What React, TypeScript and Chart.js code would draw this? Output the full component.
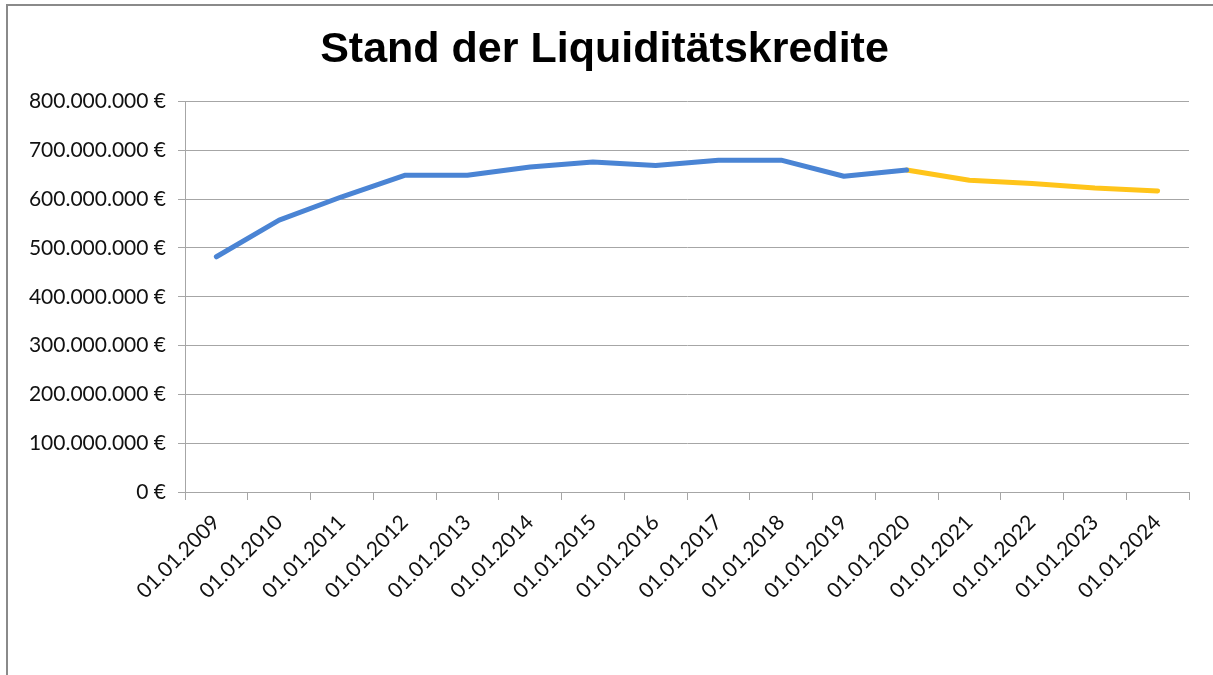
import React, { useEffect, useRef } from "react";
import { Chart, registerables } from "chart.js";

Chart.register(...registerables);

const categories = [
  "01.01.2009", "01.01.2010", "01.01.2011", "01.01.2012", "01.01.2013", "01.01.2014",
  "01.01.2015", "01.01.2016", "01.01.2017", "01.01.2018", "01.01.2019", "01.01.2020",
  "01.01.2021", "01.01.2022", "01.01.2023", "01.01.2024",
];

// Ist-Werte (blau), 2009–2020
const actualValues: (number | null)[] = [
  482e6, 557e6, 605e6, 649e6, 649e6, 666e6, 676e6, 669e6, 680e6, 680e6, 647e6, 660e6,
  null, null, null, null,
];

// Planwerte (gelb), 2020–2024
const planValues: (number | null)[] = [
  null, null, null, null, null, null, null, null, null, null, null, 660e6,
  639e6, 632e6, 623e6, 617e6,
];

const yTicks = [0, 100e6, 200e6, 300e6, 400e6, 500e6, 600e6, 700e6, 800e6];

const titleText = "Stand der Liquiditätskredite";

function formatEuro(v: number): string {
  const s = Math.round(v).toString().replace(/\B(?=(\d{3})+(?!\d))/g, ".");
  return s + " €";
}

export default function App() {
  const ref = useRef<HTMLCanvasElement>(null);

  useEffect(() => {
    if (!ref.current) return;
    const chart = new Chart(ref.current, {
      type: "line",
      data: {
        labels: categories,
        datasets: [
          {
            label: "Ist",
            data: actualValues,
            borderColor: "#4a84d4",
            borderWidth: 5,
            pointRadius: 0,
            tension: 0,
            borderCapStyle: "round",
            borderJoinStyle: "round",
            spanGaps: false,
          },
          {
            label: "Plan",
            data: planValues,
            borderColor: "#ffc41a",
            borderWidth: 5,
            pointRadius: 0,
            tension: 0,
            borderCapStyle: "round",
            borderJoinStyle: "round",
            spanGaps: false,
          },
        ],
      },
      options: {
        responsive: false,
        animation: false,
        layout: { padding: { left: 20, right: 24, top: 0, bottom: 73 } },
        plugins: {
          legend: { display: false },
          tooltip: { enabled: false },
          title: {
            display: true,
            text: titleText,
            color: "#000",
            font: { family: "'Liberation Sans', Arial, sans-serif", size: 43, weight: "bold" },
            padding: { top: 24, bottom: 26 },
          },
        },
        scales: {
          x: {
            offset: true,
            afterFit: (scale: any) => {
              scale.height = 110;
            },
            grid: {
              display: true,
              drawOnChartArea: false,
              drawTicks: true,
              tickLength: 8,
              color: "#a6a6a6",
              offset: true,
            },
            border: { color: "#a6a6a6", width: 1 },
            ticks: {
              color: "#111",
              font: { family: "Lato, 'Open Sans', sans-serif", size: 21 },
              minRotation: 45,
              maxRotation: 45,
              autoSkip: false,
              padding: 10,
            },
          },
          y: {
            min: 0,
            max: 800e6,
            afterBuildTicks: (scale: any) => {
              scale.ticks = yTicks.map((v) => ({ value: v }));
            },
            afterFit: (scale: any) => {
              scale.width = 165;
            },
            grid: {
              color: "#a6a6a6",
              tickLength: 7,
              lineWidth: 1,
            },
            border: { color: "#a6a6a6", width: 1 },
            ticks: {
              color: "#111",
              font: { family: "Lato, 'Open Sans', sans-serif", size: 21 },
              padding: 12,
              callback: (v: any) => formatEuro(Number(v)),
            },
          },
        },
      },
    });
    return () => chart.destroy();
  }, []);

  return (
    <div style={{ position: "fixed", left: 0, top: 0, width: 1213, height: 675, background: "#fff", overflow: "hidden" }}>
      <canvas ref={ref} width={1213} height={675} style={{ position: "absolute", left: 0, top: 0 }} />
      <div
        style={{
          position: "absolute",
          left: 6,
          top: 4,
          width: 1230,
          height: 700,
          borderLeft: "2px solid #8a8a8a",
          borderTop: "2px solid #8a8a8a",
          pointerEvents: "none",
        }}
      />
    </div>
  );
}
